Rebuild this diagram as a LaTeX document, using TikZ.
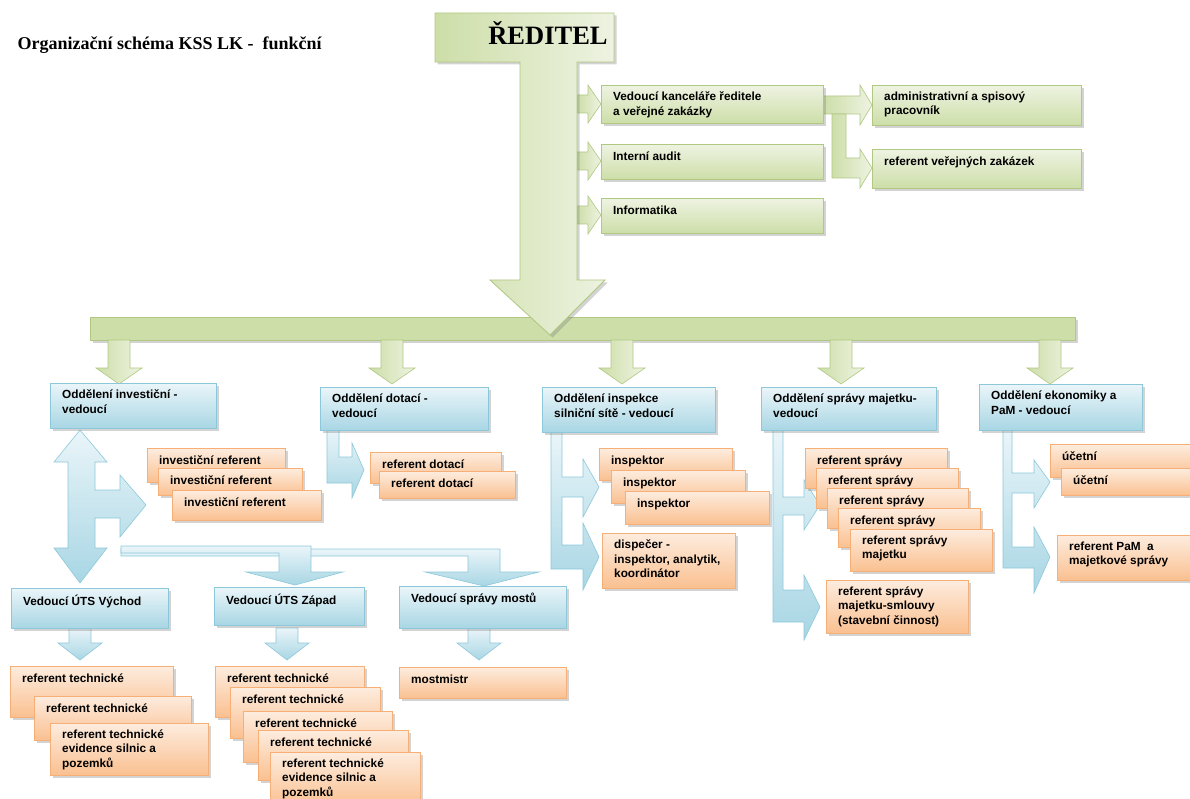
\documentclass[tikz,border=0pt]{standalone}
\usepackage{fontspec}
\setmainfont{Liberation Serif}
\newfontfamily\arialfont{Liberation Sans}
\usetikzlibrary{shadows}

\definecolor{grnD}{RGB}{205,222,168}
\definecolor{grnL}{RGB}{238,243,226}
\definecolor{grnE}{RGB}{176,200,130}
\definecolor{bluD}{RGB}{168,214,228}
\definecolor{bluL}{RGB}{234,245,249}
\definecolor{bluE}{RGB}{140,200,218}
\definecolor{orgD}{RGB}{250,192,144}
\definecolor{orgL}{RGB}{253,236,222}
\definecolor{orgE}{RGB}{247,175,120}

\newcommand{\boxfont}{\arialfont\bfseries\fontsize{11.8}{14.5}\selectfont}

\tikzset{
  shd/.style={drop shadow={shadow xshift=2.5pt, shadow yshift=-2.5pt, opacity=0.35}},
  gbox/.style={shd, draw=grnE, line width=0.8pt, top color=grnL, bottom color=grnD, anchor=north west, inner sep=0pt},
  bbox/.style={shd, draw=bluE, line width=0.8pt, top color=bluL, bottom color=bluD, anchor=north west, inner sep=0pt},
  obox/.style={shd, draw=orgE, line width=0.8pt, top color=orgL, bottom color=orgD, anchor=north west, inner sep=0pt},
  txt/.style={anchor=north west, align=left, inner xsep=12pt, inner ysep=6.5pt, font=\boxfont, execute at begin node=\strut},
  garrow/.style={draw=grnE, line width=0.6pt, left color=grnD, right color=grnL},
  barrow/.style={draw=bluE, line width=0.6pt, top color=bluL, bottom color=bluD}
}

\begin{document}
\begin{tikzpicture}[x=1pt,y=-1pt]
\useasboundingbox (0,0) rectangle (1190,799);

\node[anchor=base west, font=\bfseries\fontsize{18}{20}\selectfont] (title) at (14,50) {Organizační schéma KSS LK -~ funkční};

% green part
\foreach \cy in {104,161,215}
  \draw[garrow] (577,\cy-9) -- (588,\cy-9) -- (588,\cy-19) -- (601,\cy) -- (588,\cy+19) -- (588,\cy+9) -- (577,\cy+9) -- cycle;
\draw[garrow] (823,96) -- (860,96) -- (860,85) -- (872,105) -- (860,125) -- (860,114) -- (823,114) -- cycle;
\draw[garrow] (832,114) -- (846,114) -- (846,158) -- (860,158) -- (860,149) -- (872,168) -- (860,188) -- (860,178) -- (832,178) -- cycle;

\draw[shd, draw=grnE, line width=0.8pt, top color=grnD, middle color=white, bottom color=grnD] (90,317) rectangle (1075,340);
\foreach \cx in {119,392,622,841,1050}
  \draw[garrow] (\cx-11,340) -- (\cx+11,340) -- (\cx+11,368) -- (\cx+23,368) -- (\cx,384) -- (\cx-23,368) -- (\cx-11,368) -- cycle;

\draw[shd, draw=grnE, line width=0.8pt, left color=grnD, right color=grnL]
  (435,13) -- (614,13) -- (614,62) -- (577,62) -- (577,280) -- (605,280) -- (550,335)
  -- (490,280) -- (520,280) -- (520,62) -- (435,62) -- cycle;
\node[anchor=base, font=\bfseries\fontsize{26.5}{28}\selectfont] (reditel) at (548,45) {ŘEDITEL};

\node[gbox, minimum width=222pt, minimum height=38pt, label={[txt]north west:{Vedoucí kanceláře ředitele\\a veřejné zakázky}}] (kanc) at (601,85) {};
\node[gbox, minimum width=222pt, minimum height=35pt, label={[txt]north west:{Interní audit}}] (audit) at (601,144) {};
\node[gbox, minimum width=222pt, minimum height=35pt, label={[txt]north west:{Informatika}}] (info) at (601,198) {};
\node[gbox, minimum width=209pt, minimum height=40pt, label={[txt]north west:{administrativní a spisový\\pracovník}}] (admin) at (872,85) {};
\node[gbox, minimum width=209pt, minimum height=39pt, label={[txt]north west:{referent veřejných zakázek}}] (refvz) at (872,149) {};

% blue arrows
\draw[barrow] (80,430) -- (107,462) -- (95,462) -- (95,490) -- (120,490) -- (120,475) -- (146,505)
  -- (120,537) -- (120,518) -- (95,518) -- (95,548) -- (107,548) -- (80,583) -- (54,548)
  -- (68,548) -- (68,462) -- (54,462) -- cycle;
\draw[barrow] (121,549) -- (500,549) -- (500,572) -- (539,572) -- (484,586) -- (425,572) -- (468,572) -- (468,556) -- (121,556) -- cycle;
\draw[barrow] (121,546) -- (311,546) -- (311,572) -- (343,572) -- (295,585) -- (246,572) -- (279,572) -- (279,553) -- (121,553) -- cycle;
\draw[barrow] (327,430) -- (339,430) -- (339,457) -- (352,457) -- (352,443) -- (364,470) -- (352,498) -- (352,483) -- (327,483) -- cycle;
\draw[barrow] (551,432) -- (562,432) -- (562,477) -- (583,477) -- (583,459) -- (599,487) -- (583,517) -- (583,497)
  -- (562,497) -- (562,545) -- (583,545) -- (583,523) -- (599,557) -- (583,590) -- (583,569) -- (551,569) -- cycle;
\draw[barrow] (773,430) -- (783,430) -- (783,497) -- (804,497) -- (804,480) -- (820,505) -- (804,530) -- (804,515)
  -- (783,515) -- (783,590) -- (804,590) -- (804,575) -- (820,607) -- (804,640) -- (804,622) -- (773,622) -- cycle;
\draw[barrow] (1003,430) -- (1012,430) -- (1012,473) -- (1034,473) -- (1034,460) -- (1050,482) -- (1034,508) -- (1034,493)
  -- (1012,493) -- (1012,547) -- (1034,547) -- (1034,527) -- (1050,557) -- (1034,593) -- (1034,568) -- (1003,568) -- cycle;
\foreach \cx in {80,287,479}
  \draw[barrow] (\cx-11,628) -- (\cx+11,628) -- (\cx+11,643) -- (\cx+22,643) -- (\cx,660) -- (\cx-22,643) -- (\cx-11,643) -- cycle;

% departments
\node[bbox, minimum width=166pt, minimum height=45pt, label={[txt]north west:{Oddělení investiční -\\vedoucí}}] (oinv) at (50,383) {};
\node[bbox, minimum width=168pt, minimum height=43pt, label={[txt]north west:{Oddělení dotací -\\vedoucí}}] (odot) at (320,387) {};
\node[bbox, minimum width=173pt, minimum height=45pt, label={[txt]north west:{Oddělení inspekce\\silniční sítě - vedoucí}}] (oinsp) at (542,387) {};
\node[bbox, minimum width=175pt, minimum height=43pt, label={[txt]north west:{Oddělení správy majetku-\\vedoucí}}] (ospr) at (761,387) {};
\node[bbox, minimum width=163pt, minimum height=46pt, label={[txt]north west:{Oddělení ekonomiky a\\PaM - vedoucí}}] (oeko) at (979,384) {};

\node[bbox, minimum width=157pt, minimum height=40pt, label={[txt]north west:{Vedoucí ÚTS Východ}}] (vych) at (11,588) {};
\node[bbox, minimum width=150pt, minimum height=38pt, label={[txt]north west:{Vedoucí ÚTS Západ}}] (zap) at (214,587) {};
\node[bbox, minimum width=167pt, minimum height=42pt, label={[txt]north west:{Vedoucí správy mostů}}] (most) at (399,586) {};

% referents
\node[obox, minimum width=138pt, minimum height=34pt, label={[txt]north west:{investiční referent}}] (inv1) at (147,448) {};
\node[obox, minimum width=144pt, minimum height=27pt, label={[txt]north west:{investiční referent}}] (inv2) at (158,468) {};
\node[obox, minimum width=149pt, minimum height=30pt, label={[txt]north west:{investiční referent}}] (inv3) at (172,490) {};

\node[obox, minimum width=131pt, minimum height=31pt, label={[txt]north west:{referent dotací}}] (dot1) at (370,452) {};
\node[obox, minimum width=136pt, minimum height=27pt, label={[txt]north west:{referent dotací}}] (dot2) at (379,471) {};

\node[obox, minimum width=133pt, minimum height=32pt, label={[txt]north west:{inspektor}}] (insp1) at (599,448) {};
\node[obox, minimum width=134pt, minimum height=33pt, label={[txt]north west:{inspektor}}] (insp2) at (611,470) {};
\node[obox, minimum width=144pt, minimum height=33pt, label={[txt]north west:{inspektor}}] (insp3) at (625,491) {};
\node[obox, minimum width=133pt, minimum height=55pt, label={[txt]north west:{dispečer -\\inspektor, analytik,\\koordinátor}}] (disp) at (602,533) {};

\node[obox, minimum width=142pt, minimum height=40pt, label={[txt]north west:{referent správy}}] (spr1) at (805,448) {};
\node[obox, minimum width=142pt, minimum height=40pt, label={[txt]north west:{referent správy}}] (spr2) at (816,468) {};
\node[obox, minimum width=141pt, minimum height=40pt, label={[txt]north west:{referent správy}}] (spr3) at (827,488) {};
\node[obox, minimum width=142pt, minimum height=39pt, label={[txt]north west:{referent správy}}] (spr4) at (838,508) {};
\node[obox, minimum width=142pt, minimum height=42pt, label={[txt]north west:{referent správy\\majetku}}] (spr5) at (850,529) {};
\node[obox, minimum width=142pt, minimum height=53pt, label={[txt]north west:{referent správy\\majetku-smlouvy\\(stavební činnost)}}] (smlouvy) at (826,580) {};

\node[obox, minimum width=146pt, minimum height=33pt, label={[txt]north west:{účetní}}] (ucet1) at (1050,444) {};
\node[obox, minimum width=135pt, minimum height=27pt, label={[txt]north west:{účetní}}] (ucet2) at (1061,468) {};
\node[obox, minimum width=139pt, minimum height=45pt, label={[txt]north west:{referent PaM~ a\\majetkové správy}}] (pam) at (1057,535) {};

\node[obox, minimum width=163pt, minimum height=51pt, label={[txt]north west:{referent technické}}] (vtech1) at (10,666) {};
\node[obox, minimum width=157pt, minimum height=44pt, label={[txt]north west:{referent technické}}] (vtech2) at (34,696) {};
\node[obox, minimum width=158pt, minimum height=52pt, label={[txt]north west:{referent technické\\evidence silnic a\\pozemků}}] (vtech3) at (50,723) {};

\node[obox, minimum width=149pt, minimum height=51pt, label={[txt]north west:{referent technické}}] (ztech1) at (215,666) {};
\node[obox, minimum width=150pt, minimum height=51pt, label={[txt]north west:{referent technické}}] (ztech2) at (230,687) {};
\node[obox, minimum width=149pt, minimum height=51pt, label={[txt]north west:{referent technické}}] (ztech3) at (243,711) {};
\node[obox, minimum width=150pt, minimum height=50pt, label={[txt]north west:{referent technické}}] (ztech4) at (258,730) {};
\node[obox, minimum width=150pt, minimum height=55pt, label={[txt]north west:{referent technické\\evidence silnic a\\pozemků}}] (ztech5) at (270,752) {};

\node[obox, minimum width=167pt, minimum height=31pt, label={[txt]north west:{mostmistr}}] (mostmistr) at (399,667) {};
\end{tikzpicture}
\end{document}
